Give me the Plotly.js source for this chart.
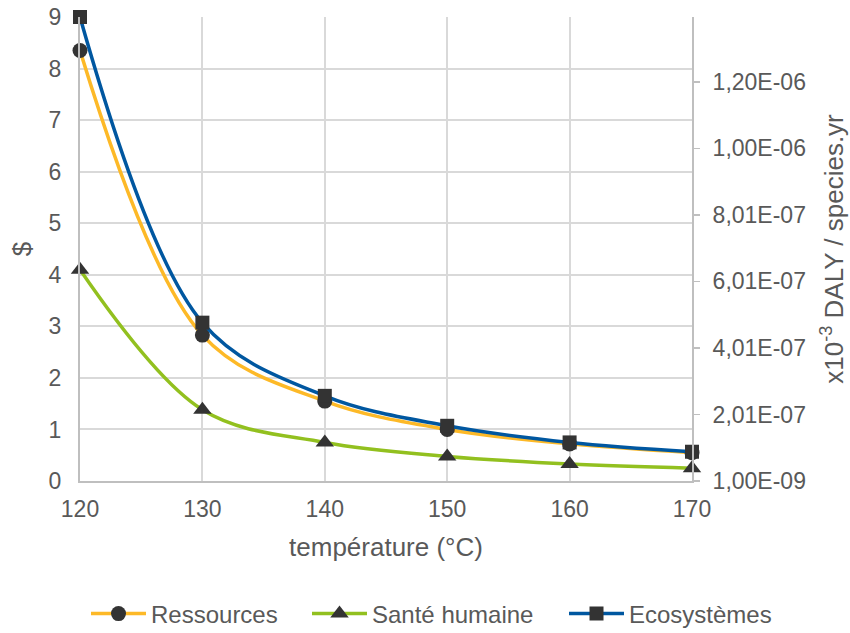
<!DOCTYPE html>
<html><head><meta charset="utf-8">
<script src="https://cdn.plot.ly/plotly-3.0.1.min.js"></script>
<style>html,body{margin:0;padding:0;background:#fff}#chart{width:850px;height:633px}</style>
</head><body><div id="chart"></div>
<script>
const temperature = [120, 130, 140, 150, 160, 170];
const ressources = [8.35, 2.83, 1.55, 1.00, 0.72, 0.55];
const santeHumaine = [6.36e-7, 2.15e-7, 1.17e-7, 7.5e-8, 5.2e-8, 3.97e-8];
const ecosystemes = [1.396e-6, 4.77e-7, 2.57e-7, 1.67e-7, 1.17e-7, 8.9e-8];
const leftTicks = [0,1,2,3,4,5,6,7,8,9];
const rightTickVals = [1e-9, 2.01e-7, 4.01e-7, 6.01e-7, 8.01e-7, 1.001e-6, 1.201e-6];
const rightTickText = ["1,00E-09","2,01E-07","4,01E-07","6,01E-07","8,01E-07","1,00E-06","1,20E-06"];
const xTicks = [120,130,140,150,160,170];

const grey = '#595959';
const fam = 'Liberation Sans, Arial, sans-serif';
const tickFont = {family: fam, size: 23, color: grey};
const titleFont = {family: fam, size: 26, color: grey};
const legendFont = {family: fam, size: 24, color: grey};

const traces = [
  {x: temperature, y: ressources, name: 'Ressources', type: 'scatter', mode: 'lines+markers', cliponaxis: false,
   legend: 'legend',
   line: {color: '#FDB927', width: 3.5, shape: 'spline', smoothing: 1},
   marker: {symbol: 'circle', size: 15, color: '#333333'}},
  {x: temperature, y: santeHumaine, name: 'Santé humaine', type: 'scatter', mode: 'lines+markers', yaxis: 'y2', cliponaxis: false,
   legend: 'legend2',
   line: {color: '#92C01F', width: 3.5, shape: 'spline', smoothing: 1},
   marker: {symbol: 'triangle-up', size: 16, color: '#333333'}},
  {x: temperature, y: ecosystemes, name: 'Ecosystèmes', type: 'scatter', mode: 'lines+markers', yaxis: 'y2', cliponaxis: false,
   legend: 'legend3',
   line: {color: '#0057A0', width: 3.5, shape: 'spline', smoothing: 1},
   marker: {symbol: 'square', size: 14, color: '#333333'}}
];

function leg(px) {
  return {orientation: 'h', x: px / 850, xref: 'container', xanchor: 'left',
          y: 0.03, yref: 'container', yanchor: 'middle',
          font: legendFont, itemwidth: 55, bgcolor: 'rgba(0,0,0,0)'};
}

const layout = {
  width: 850, height: 633,
  margin: {l: 80, r: 158, t: 17, b: 152},
  paper_bgcolor: '#fff', plot_bgcolor: '#fff',
  font: tickFont,
  showlegend: true,
  legend: leg(86), legend2: leg(307), legend3: leg(564),
  xaxis: {range: [120, 170], tickvals: xTicks, ticktext: xTicks.map(String),
          showgrid: true, gridcolor: '#D9D9D9', gridwidth: 2,
          showline: true, linecolor: '#BFBFBF', linewidth: 2, zeroline: false,
          ticks: '', tickfont: tickFont, ticklabelstandoff: 6,
          title: {text: 'température (°C)', font: titleFont, standoff: 17}},
  yaxis: {range: [0, 9], tickvals: leftTicks, ticktext: leftTicks.map(String),
          showgrid: true, gridcolor: '#D9D9D9', gridwidth: 2,
          showline: true, linecolor: '#BFBFBF', linewidth: 2, zeroline: false,
          ticks: '', tickfont: tickFont, ticklabelstandoff: 12,
          title: {text: '$', font: titleFont, standoff: 10}},
  yaxis2: {overlaying: 'y', side: 'right', range: [1e-9, 1.396e-6],
           tickvals: rightTickVals, ticktext: rightTickText,
           showgrid: false, showline: true, linecolor: '#BFBFBF', linewidth: 2, zeroline: false,
           ticks: 'outside', ticklen: 6, tickcolor: '#BFBFBF', tickwidth: 1.5, tickfont: tickFont,
           ticklabelstandoff: 8,
           title: {text: 'x10<sup>-3</sup> DALY / species.yr', font: titleFont, standoff: 20}}
};

Plotly.newPlot('chart', traces, layout, {displayModeBar: false, staticPlot: true});
</script></body></html>
